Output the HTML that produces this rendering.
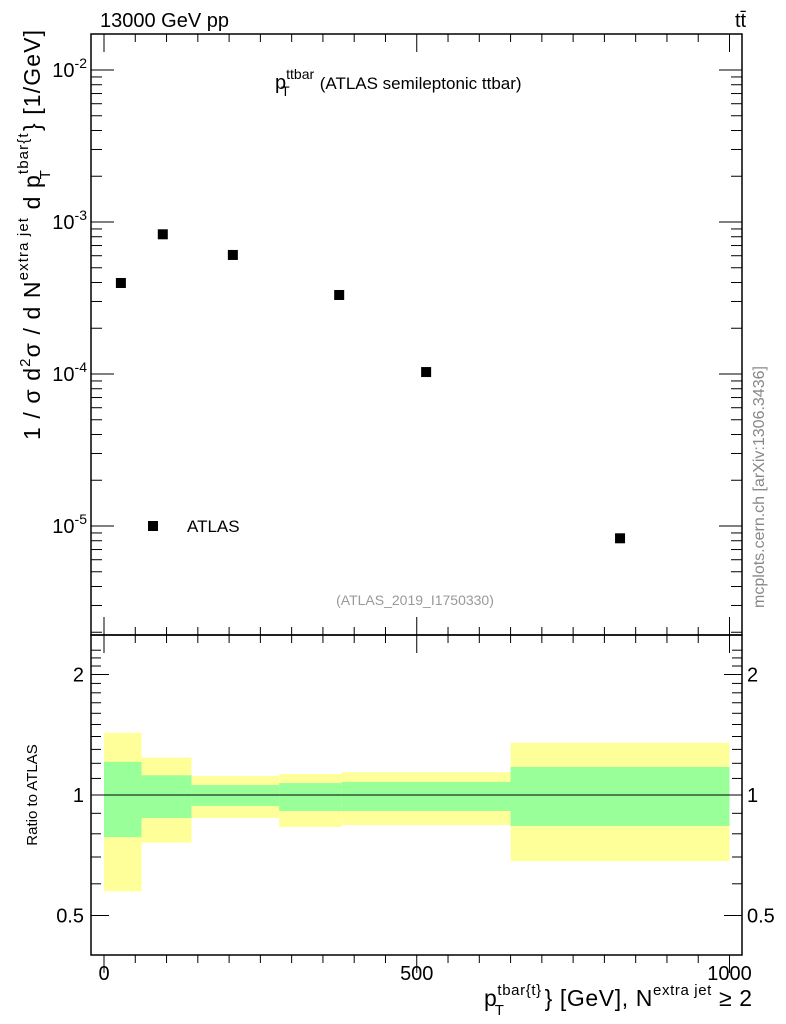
<!DOCTYPE html>
<html><head><meta charset="utf-8"><style>
body{margin:0;background:#fff;}
svg{display:block;font-family:"Liberation Sans",Arial,sans-serif;}
</style></head><body>
<svg id="c" width="786" height="1024" viewBox="0 0 786 1024">
<text x="100" y="27" font-size="20">13000 GeV pp</text>
<text x="735" y="27" font-size="20">tt̄</text>
<text x="275" y="89" font-size="20">p<tspan font-size="14" dy="-10">ttbar</tspan><tspan font-size="14" dx="-33" dy="17">T</tspan><tspan font-size="17" dx="30" dy="-7">(ATLAS semileptonic ttbar)</tspan></text>
<text x="415" y="605" font-size="14" fill="#999" text-anchor="middle">(ATLAS_2019_I1750330)</text>
<text transform="translate(764,487) rotate(-90)" font-size="16" fill="#888" text-anchor="middle">mcplots.cern.ch [arXiv:1306.3436]</text>
<text transform="translate(40,440) rotate(-90)" font-size="23" textLength="410" lengthAdjust="spacing">1 / σ d<tspan font-size="15" dy="-10">2</tspan><tspan dy="10">σ / d N</tspan><tspan font-size="15" dy="-12">extra jet</tspan><tspan dy="12"> d p</tspan><tspan font-size="15" dy="-12">tbar{t</tspan><tspan font-size="15" dx="-47" dy="22">T</tspan><tspan dx="38" dy="-10">} [1/GeV]</tspan></text>
<text transform="translate(37,795) rotate(-90)" font-size="15" text-anchor="middle">Ratio to ATLAS</text>
<text x="484" y="1006" font-size="23" textLength="268" lengthAdjust="spacing">p<tspan font-size="15" dy="-11">tbar{t}</tspan><tspan font-size="15" dx="-47" dy="20">T</tspan><tspan dx="40" dy="-9">} [GeV], N</tspan><tspan font-size="15" dy="-11">extra jet</tspan><tspan dy="11"> ≥ 2</tspan></text>
<g id="main"></g>
<g id="ratio"></g>
<rect x="91" y="34" width="651" height="601" fill="none" stroke="#000" stroke-width="1.5"/>
<rect x="91" y="635" width="651" height="320" fill="none" stroke="#000" stroke-width="1.5"/>
</svg>
<script>
const xs=[27,94,206,376,515,825];
const ys=[3.97e-4,8.3e-4,6.07e-4,3.31e-4,1.03e-4,8.3e-6];
const binEdges=[0,60,140,280,380,650,1000];
const yelHi=[1.43,1.24,1.115,1.128,1.14,1.35];
const yelLo=[0.575,0.76,0.876,0.832,0.841,0.684];
const grnHi=[1.21,1.12,1.059,1.071,1.078,1.175];
const grnLo=[0.785,0.876,0.939,0.912,0.912,0.837];
const xTicks=[0,500,1000];
const yTicks=[-2,-3,-4,-5];
const rTicks=[2,1,0.5];
const NS='http://www.w3.org/2000/svg';
const X=v=>104+v*0.6255;
const Y=v=>222-(Math.log10(v)+3)*152;
const R=v=>795-Math.log2(v)*120.5;
const L0=91,R0=742;
function mk(p,t,a){const e=document.createElementNS(NS,t);for(const k in a)e.setAttribute(k,a[k]);document.getElementById(p).appendChild(e);return e;}
for(let i=0;i<yelHi.length;i++){
 const x0=X(binEdges[i]),x1=X(binEdges[i+1]);
 let e=mk('ratio','rect',{x:x0,y:R(yelHi[i]),width:x1-x0,height:R(yelLo[i])-R(yelHi[i]),fill:'#ffff99'});
 
 
 e=mk('ratio','rect',{x:x0,y:R(grnHi[i]),width:x1-x0,height:R(grnLo[i])-R(grnHi[i]),fill:'#99ff99'});
 
 
}
let l=mk('ratio','line',{x1:X(0),x2:X(1000),y1:R(1),y2:R(1),stroke:'#000'});


for(let i=0;i<xs.length;i++){
 const p=mk('main','rect',{x:X(xs[i])-5,y:Y(ys[i])-5,width:10,height:10,fill:'#000'});
 
 
}
let lg=mk('main','rect',{x:148,y:521,width:10,height:10,fill:'#000'});


let lt=mk('main','text',{x:187,y:532,'font-size':17});lt.textContent='ATLAS';


for(let v=0;v<=1000;v+=50){
 const maj=v%500===0;
 for(const [y0,d] of [[635,1],[955,-1],[34,-1],[635,-1]]){
  mk('ratio','line',{x1:X(v),x2:X(v),y1:y0,y2:y0-d*(maj?18:8),stroke:'#000'});
 }
}
for(const v of xTicks){
 const t=mk('ratio','text',{x:X(v),y:980,'font-size':20,'text-anchor':'middle'});t.textContent=v;
 
 
}
for(let d=-6;d<=-2;d++){
 for(let m=1;m<10;m++){
  const yy=Y(m*Math.pow(10,d));
  if(yy<35||yy>635)continue;
  const L=m===1?23:11;
  mk('main','line',{x1:L0,x2:L0+L,y1:yy,y2:yy,stroke:'#000'});
  mk('main','line',{x1:R0,x2:R0-L,y1:yy,y2:yy,stroke:'#000'});
 }
}
for(const d of yTicks){
 const t=mk('main','text',{x:87,y:Y(Math.pow(10,d))+7,'font-size':20,'text-anchor':'end'});
 t.innerHTML='10<tspan font-size="14" dy="-9">'+d+'</tspan>';
 
 
}
for(const v of [0.5,0.6,0.7,0.8,0.9,1,1.1,1.2,1.3,1.4,1.5,1.6,1.7,1.8,1.9,2,2.1,2.2,2.3]){
 const maj=rTicks.includes(v);
 const yy=R(v); if(yy<636)continue;
 mk('ratio','line',{x1:L0,x2:L0+(maj?18:10),y1:yy,y2:yy,stroke:'#000'});
 mk('ratio','line',{x1:R0,x2:R0-(maj?18:10),y1:yy,y2:yy,stroke:'#000'});
}
for(const v of rTicks){
 for(const [x,a] of [[84,'end'],[747,'start']]){
  const t=mk('ratio','text',{x:x,y:R(v)+7,'font-size':20,'text-anchor':a});t.textContent=v;
  
  
 }
}
</script>
</body></html>
